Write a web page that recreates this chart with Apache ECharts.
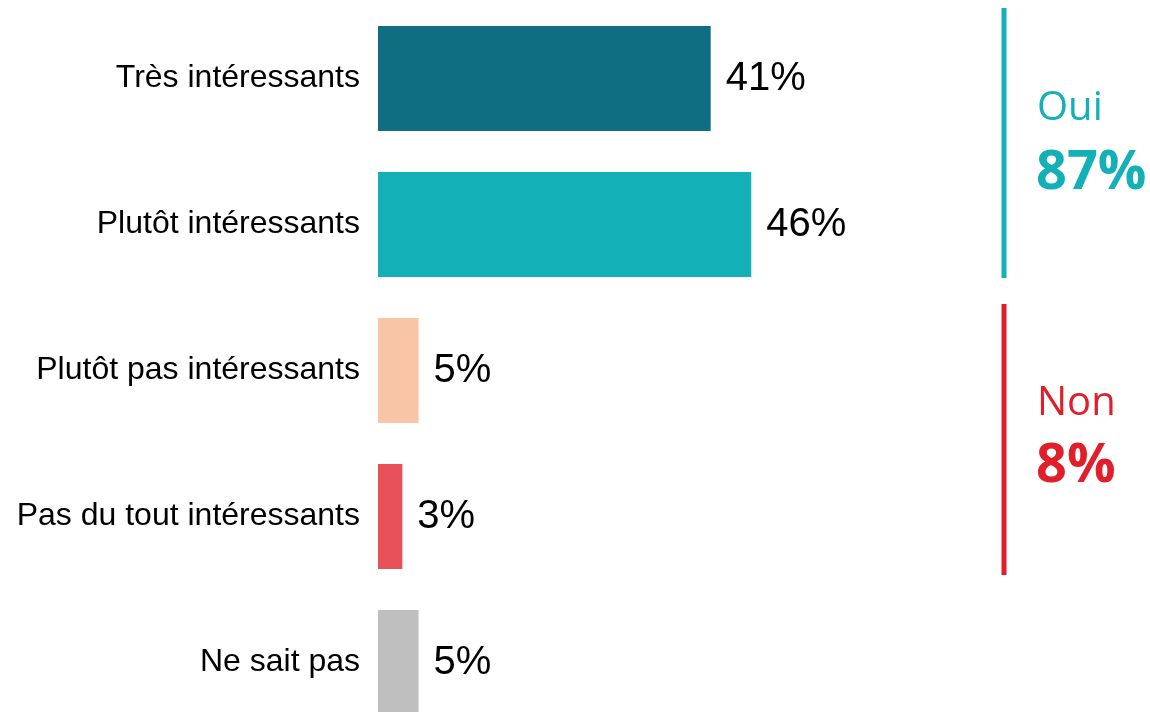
<!DOCTYPE html>
<html>
<head>
<meta charset="utf-8">
<script src="https://cdn.jsdelivr.net/npm/echarts@6/dist/echarts.min.js"></script>
<style>
  html, body { margin: 0; padding: 0; background: #fff; height: 712px; overflow: hidden; }
  #chart { width: 1150px; height: 740px; }
</style>
</head>
<body>
<div id="chart"></div>
<script>
    var categories = ['Très intéressants', 'Plutôt intéressants', 'Plutôt pas intéressants', 'Pas du tout intéressants', 'Ne sait pas'];
    var values = [41, 46, 5, 3, 5];
    var barColors = ['#0f6e82', '#14b0b8', '#f8c6a6', '#e8505a', '#bfbfbf'];
    var groupLabels = ['Oui', 'Non'];
    var groupTotals = ['87%', '8%'];
    var groupColors = ['#14b0b8', '#e01f2a'];

    var chart = echarts.init(document.getElementById('chart'));

    var data = [];
    for (var i = 0; i < values.length; i++) {
        data.push({value: values[i], itemStyle: {color: barColors[i]}});
    }

    // the last bar is cut off by the bottom edge of the picture, so the grid runs past it
    var option = {
        animation: false,
        grid: {left: 378, width: 568, top: 5.5, height: 730},
        xAxis: {
            type: 'value',
            min: 0,
            max: 70,
            show: false
        },
        yAxis: {
            type: 'category',
            data: categories,
            inverse: true,
            axisLine: {show: false},
            axisTick: {show: false},
            axisLabel: {
                margin: 18,
                padding: [8, 0, 0, 0],
                color: '#000',
                fontSize: 32,
                fontFamily: 'Liberation Sans, Arial, sans-serif'
            }
        },
        series: [{
            type: 'bar',
            data: data,
            barWidth: 105,
            label: {
                show: true,
                position: 'right',
                distance: 15,
                color: '#000',
                fontSize: 40,
                fontFamily: 'Liberation Sans, Arial, sans-serif',
                formatter: '{c}%'
            }
        }],
        graphic: [
            {type: 'line', shape: {x1: 1004, y1: 8, x2: 1004, y2: 278}, style: {stroke: groupColors[0], lineWidth: 5}},
            {type: 'line', shape: {x1: 1004, y1: 304, x2: 1004, y2: 575}, style: {stroke: groupColors[1], lineWidth: 5}},
            {type: 'text', x: 1037, y: 109, style: {text: groupLabels[0], fill: groupColors[0], verticalAlign: 'middle', font: '40px "Open Sans", sans-serif'}},
            {type: 'text', x: 1036, y: 174, style: {text: groupTotals[0], fill: groupColors[0], verticalAlign: 'middle', font: 'bold 54px "Open Sans", sans-serif'}},
            {type: 'text', x: 1037, y: 404, style: {text: groupLabels[1], fill: groupColors[1], verticalAlign: 'middle', font: '40px "Open Sans", sans-serif'}},
            {type: 'text', x: 1036, y: 467, style: {text: groupTotals[1], fill: groupColors[1], verticalAlign: 'middle', font: 'bold 54px "Open Sans", sans-serif'}}
        ]
    };
    chart.setOption(option);
</script>
</body>
</html>
